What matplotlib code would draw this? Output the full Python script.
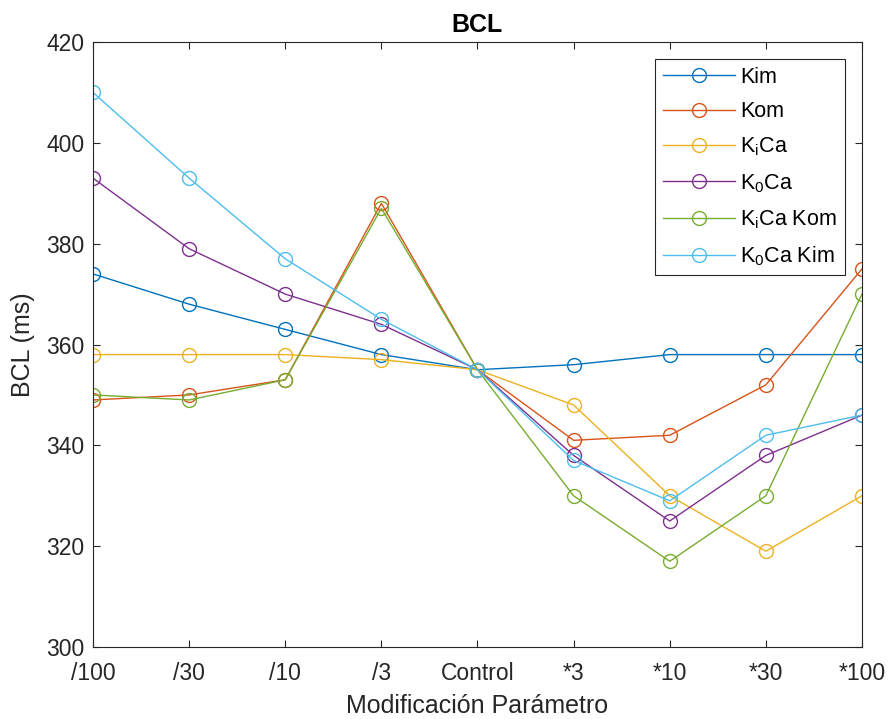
import numpy as np
import matplotlib
matplotlib.use('Agg')
import matplotlib.pyplot as plt

# Data
categories = ['/100', '/30', '/10', '/3', 'Control', '*3', '*10', '*30', '*100']
kim = [374, 368, 363, 358, 355, 356, 358, 358, 358]
kom = [349, 350, 353, 388, 355, 341, 342, 352, 375]
kica = [358, 358, 358, 357, 355, 348, 330, 319, 330]
k0ca = [393, 379, 370, 364, 355, 338, 325, 338, 346]
kica_kom = [350, 349, 353, 387, 355, 330, 317, 330, 370]
k0ca_kim = [410, 393, 377, 365, 355, 337, 329, 342, 346]

labels = ['Kim', 'Kom', r'K$_\mathregular{i}$Ca', r'K$_\mathregular{0}$Ca',
          r'K$_\mathregular{i}$Ca Kom', r'K$_\mathregular{0}$Ca Kim']
colors = ['#0072BD', '#D95319', '#EDB120', '#7E2F8E', '#77AC30', '#4DBEEE']

plt.rcParams['font.family'] = ['Liberation Sans', 'DejaVu Sans']


def main():
    fig = plt.figure(figsize=(8.89, 7.19), dpi=100)
    ax = fig.add_axes([0.1046, 0.1001, 0.8650, 0.8415])

    x = np.arange(len(categories))
    series = [kim, kom, kica, k0ca, kica_kom, k0ca_kim]
    for vals, lab, col in zip(series, labels, colors):
        ax.plot(x, vals, '-o', color=col, label=lab, linewidth=1.0,
                markersize=10, markerfacecolor='none', markeredgewidth=1.0)

    ax.set_xlim(0, len(categories) - 1)
    ax.set_ylim(300, 420)
    ax.set_xticks(x)
    ax.set_xticklabels(categories)
    ax.set_yticks(np.arange(300, 421, 20))
    ax.tick_params(direction='in', top=True, right=True, labelsize=16.5,
                   length=5, width=0.8, colors='#262626')
    ax.tick_params(axis='x', pad=11)
    ax.tick_params(axis='y', pad=6)
    for s in ax.spines.values():
        s.set_color('#262626')
        s.set_linewidth(0.8)

    ax.set_xlabel('Modificación Parámetro', fontsize=18, color='#262626', labelpad=6)
    ax.set_ylabel('BCL (ms)', fontsize=18, color='#262626', labelpad=8)
    ax.set_title('BCL', fontsize=18, fontweight='bold', pad=7)

    leg = ax.legend(loc='upper right', fontsize=15.5, fancybox=False,
                    edgecolor='#262626', framealpha=1, borderaxespad=0.8,
                    handlelength=3.35, handletextpad=0.25, borderpad=0.35,
                    labelspacing=0.63)
    leg.get_frame().set_linewidth(0.8)

    fig.savefig('out.png', dpi=100)


if __name__ == '__main__':
    main()
